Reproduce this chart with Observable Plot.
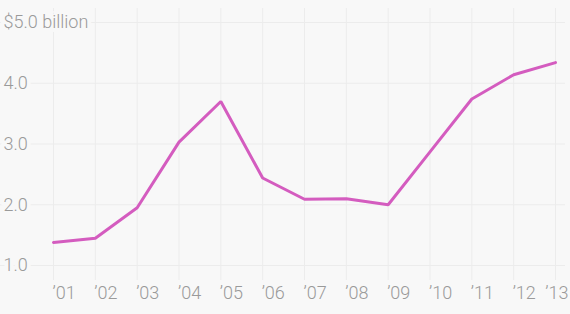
<!DOCTYPE html>
<html>
<head>
<meta charset="utf-8">
<script src="https://cdn.jsdelivr.net/npm/d3@7"></script>
<script src="https://cdn.jsdelivr.net/npm/@observablehq/plot@0.6"></script>
<style>
  html, body { margin: 0; padding: 0; background: #f8f8f8; }
</style>
</head>
<body>
<div id="chart"></div>
<script>
const years = [2001, 2002, 2003, 2004, 2005, 2006, 2007, 2008, 2009, 2010, 2011, 2012, 2013];
const yearLabels = ["’01", "’02", "’03", "’04", "’05", "’06", "’07", "’08", "’09", "’10", "’11", "’12", "’13"];
const values = [1.38, 1.45, 1.95, 3.03, 3.70, 2.44, 2.09, 2.10, 2.00, 2.87, 3.74, 4.14, 4.34];
const yTicks = [1, 2, 3, 4, 5];
const yTickLabels = ["1.0", "2.0", "3.0", "4.0", "$5.0 billion"];

const data = years.map((y, i) => ({year: y, value: values[i]}));
const lastIndex = years.length - 1;
const labelStyle = {
  frameAnchor: "bottom",
  lineAnchor: "top",
  dy: 6,
  fill: "#9a9a9a",
  fontSize: 18,
  fontWeight: 300
};

const chart = Plot.plot({
  width: 570,
  height: 314,
  marginTop: 8,
  marginBottom: 34,
  marginLeft: 0,
  marginRight: 5,
  x: {domain: [2001, 2013], range: [53, 555], axis: null},
  y: {domain: [1, 5], range: [265, 22], axis: null},
  style: {background: "#f8f8f8", fontFamily: "Roboto, 'Noto Sans', sans-serif"},
  marks: [
    Plot.ruleX(years, {x: d => d, stroke: "#ececec", strokeWidth: 1}),
    Plot.ruleY(yTicks, {y: d => d, stroke: "#ececec", strokeWidth: 1}),
    Plot.text(yTicks, {
      y: d => d,
      text: (d, i) => yTickLabels[i],
      frameAnchor: "left",
      dx: 3,
      textAnchor: "start",
      fill: "#9a9a9a",
      stroke: "#f8f8f8",
      strokeWidth: 8,
      fontSize: 18,
      fontWeight: 300
    }),
    Plot.line(data, {x: "year", y: "value", stroke: "#d45cbf", strokeWidth: 3, strokeLinejoin: "miter"}),
    Plot.text(years.slice(0, lastIndex), {
      x: d => d,
      text: (d, i) => yearLabels[i],
      dx: -1,
      textAnchor: "start",
      ...labelStyle
    }),
    Plot.text([years[lastIndex]], {
      x: d => d,
      text: () => yearLabels[lastIndex],
      dx: 13,
      textAnchor: "end",
      ...labelStyle
    })
  ]
});
document.getElementById("chart").appendChild(chart);
</script>
</body>
</html>
